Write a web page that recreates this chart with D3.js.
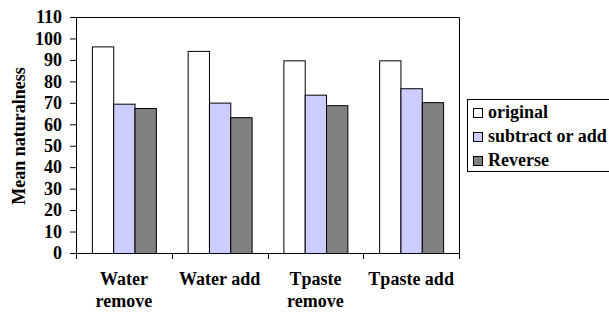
<!DOCTYPE html>
<html>
<head>
<meta charset="utf-8">
<script src="https://cdn.jsdelivr.net/npm/d3@7"></script>
<style>
  body { margin: 0; background: #fff; }
</style>
</head>
<body>
<div id="chart"></div>
<script>
var categories = [["Water", "remove"], ["Water add"], ["Tpaste", "remove"], ["Tpaste add"]];
var seriesNames = ["original", "subtract or add", "Reverse"];
var original = [96.3, 94.2, 89.8, 89.8];
var subtractOrAdd = [69.6, 70.1, 73.8, 76.8];
var reverse = [67.6, 63.3, 68.9, 70.3];
var yTicks = [0, 10, 20, 30, 40, 50, 60, 70, 80, 90, 100, 110];
var colors = ["#ffffff", "#ccccff", "#808080"];

var FONT = "'Liberation Serif', 'Times New Roman', Times, serif";
var width = 609, height = 312;
var margin = { top: 17, left: 76, right: 150, bottom: 59 };
var plotW = 459 - margin.left, plotH = 253 - margin.top;

var svg = d3.select("#chart").append("svg")
    .attr("width", width).attr("height", height);

function styleText(sel) {
    sel.style("font-family", FONT)
        .style("font-weight", "bold")
        .style("font-size", "18px")
        .attr("fill", "#000");
}

var g = svg.append("g")
    .attr("transform", "translate(" + margin.left + "," + margin.top + ")");

var catKeys = categories.map(function (c) { return c.join(" "); });
var x0 = d3.scaleBand().domain(catKeys).range([0, plotW]).padding(0);
var x1 = d3.scaleBand().domain(seriesNames).range([0, x0.bandwidth()])
    .paddingInner(0).paddingOuter(0.745);
var y = d3.scaleLinear().domain([0, 110]).range([plotH, 0]);

var rows = catKeys.map(function (k, i) {
    return { key: k, values: [original[i], subtractOrAdd[i], reverse[i]] };
});

// frame (top + right)
g.append("path")
    .attr("d", "M0,0.5H" + (plotW + 0.5) + "V" + plotH)
    .attr("fill", "none").attr("stroke", "#000").attr("stroke-width", 1);

// bars
var grp = g.selectAll(".grp").data(rows).enter().append("g")
    .attr("transform", function (d) { return "translate(" + x0(d.key) + ",0)"; });

grp.selectAll("rect").data(function (d) {
    return d.values.map(function (v, j) { return { name: seriesNames[j], v: v, j: j }; });
}).enter().append("rect")
    .attr("x", function (d) { return x1(d.name) + 0.5; })
    .attr("y", function (d) { return y(d.v) + 0.5; })
    .attr("width", x1.bandwidth())
    .attr("height", function (d) { return plotH - y(d.v); })
    .attr("fill", function (d) { return colors[d.j]; })
    .attr("stroke", "#000").attr("stroke-width", 1);

// y axis
var yAxis = g.append("g")
    .call(d3.axisLeft(y).tickValues(yTicks).tickSize(6).tickPadding(8).tickSizeOuter(0));
yAxis.attr("font-family", null).attr("font-size", null);
yAxis.select(".domain").attr("stroke", "#000");
yAxis.selectAll("line").attr("stroke", "#000");
styleText(yAxis.selectAll("text"));

// x axis with boundary ticks
var xAxisG = g.append("g").attr("transform", "translate(0," + plotH + ")");
xAxisG.append("line").attr("x1", -6).attr("x2", plotW + 0.5)
    .attr("y1", 0.5).attr("y2", 0.5).attr("stroke", "#000");
var bounds = catKeys.map(function (k) { return x0(k); }).concat([plotW]);
xAxisG.selectAll(".bt").data(bounds).enter().append("line")
    .attr("x1", function (d) { return Math.round(d) + 0.5; })
    .attr("x2", function (d) { return Math.round(d) + 0.5; })
    .attr("y1", 0).attr("y2", 6).attr("stroke", "#000");

var lbl = xAxisG.selectAll(".lbl").data(categories).enter().append("text")
    .attr("text-anchor", "middle")
    .attr("transform", function (d, i) {
        return "translate(" + (x0(catKeys[i]) + x0.bandwidth() / 2) + ",32)";
    });
styleText(lbl);
lbl.selectAll("tspan").data(function (d) { return d; }).enter().append("tspan")
    .attr("x", 0)
    .attr("y", function (d, i) { return i * 21.5; })
    .text(function (d) { return d; });

// y axis title
styleText(svg.append("text")
    .attr("transform", "translate(25,136) rotate(-90)")
    .attr("text-anchor", "middle")
    .text("Mean naturalness"));

// legend
var leg = svg.append("g").attr("transform", "translate(467,99)");
leg.append("rect").attr("x", 0.5).attr("y", 0.5).attr("width", 200).attr("height", 72)
    .attr("fill", "#fff").attr("stroke", "#000");
var items = leg.selectAll(".it").data(seriesNames).enter().append("g")
    .attr("transform", function (d, i) { return "translate(0," + (19 + i * 24) + ")"; });
items.append("rect")
    .attr("x", 6.5).attr("y", -9.5).attr("width", 9).attr("height", 9)
    .attr("fill", function (d, i) { return colors[i]; })
    .attr("stroke", "#000");
styleText(items.append("text").attr("x", 21).attr("y", 0)
    .text(function (d) { return d; }));
</script>
</body>
</html>
